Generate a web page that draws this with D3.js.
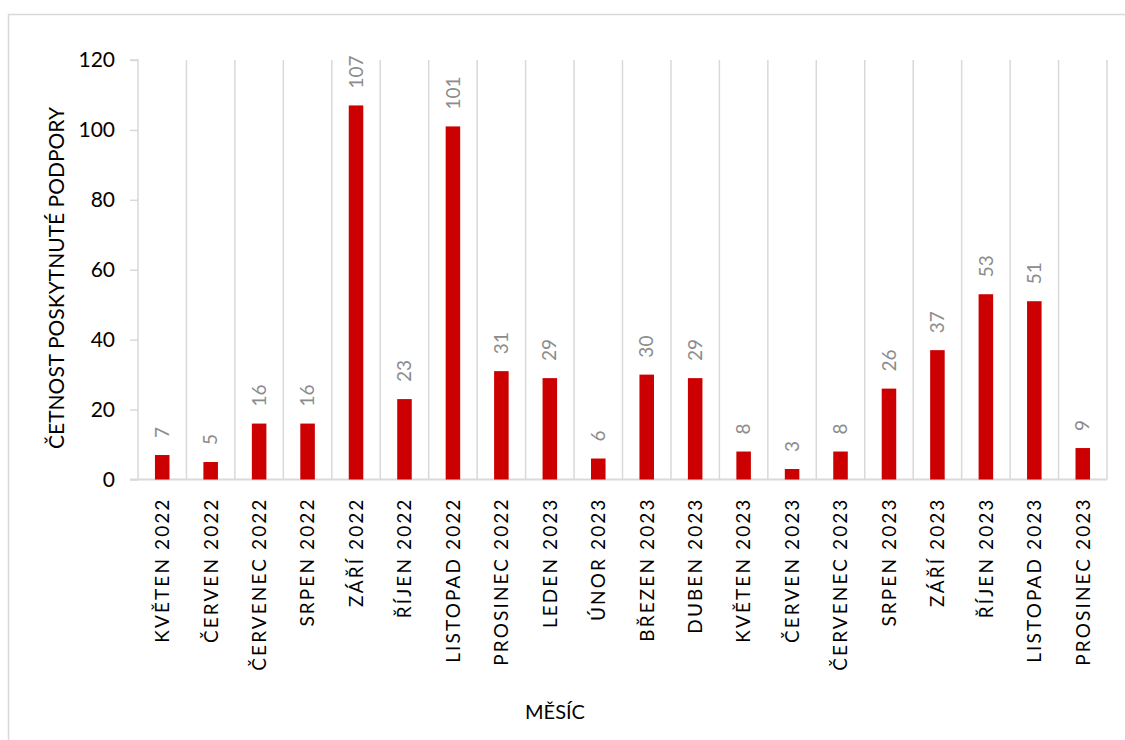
<!DOCTYPE html>
<html><head><meta charset="utf-8">
<script src="https://cdn.jsdelivr.net/npm/d3@7"></script>
<style>body{margin:0;background:#fff}svg{display:block}</style>
</head><body>
<script>
const categories = ["KVĚTEN 2022","ČERVEN 2022","ČERVENEC 2022","SRPEN 2022","ZÁŘÍ 2022","ŘÍJEN 2022","LISTOPAD 2022","PROSINEC 2022","LEDEN 2023","ÚNOR 2023","BŘEZEN 2023","DUBEN 2023","KVĚTEN 2023","ČERVEN 2023","ČERVENEC 2023","SRPEN 2023","ZÁŘÍ 2023","ŘÍJEN 2023","LISTOPAD 2023","PROSINEC 2023"];
const values = [7,5,16,16,107,23,101,31,29,6,30,29,8,3,8,26,37,53,51,9];
const yTicks = [0,20,40,60,80,100,120];
const yTitle = "ČETNOST POSKYTNUTÉ PODPORY";
const xTitle = "MĚSÍC";

const W = 1125, H = 740;
const font = "Lato, 'Open Sans', sans-serif";
const svg = d3.select("body").append("svg").attr("width", W).attr("height", H);

// outer chart border
svg.append("rect").attr("x",8.5).attr("y",14.5).attr("width",1130).attr("height",740)
  .attr("fill","none").attr("stroke","#d9d9d9").attr("stroke-width",1.5);

const L = 138, R = 1107, T = 60, B = 479.5;
const x = d3.scaleBand().domain(categories).range([L, R]).paddingInner(0).paddingOuter(0);
const y = d3.scaleLinear().domain([0,120]).range([B, T]);

// vertical gridlines at category boundaries
const bounds = categories.map(c => x(c)).concat([R]);
svg.append("g").selectAll("line").data(bounds.slice(1)).join("line")
  .attr("x1", d=>d).attr("x2", d=>d).attr("y1", T).attr("y2", B)
  .attr("stroke","#d9d9d9").attr("stroke-width",1.5);

// y axis
const yAxis = svg.append("g").attr("transform",`translate(${L},0)`)
  .call(d3.axisLeft(y).tickValues(yTicks).tickSize(8).tickPadding(15).tickFormat(d3.format("d")));
yAxis.select(".domain").attr("stroke","#d9d9d9").attr("stroke-width",1.5).attr("d",`M-8,${T}H0V${B}`);
yAxis.selectAll(".tick line").attr("stroke","#d9d9d9").attr("stroke-width",1.5);
yAxis.selectAll(".tick text").attr("font-family",font).attr("font-size",21).attr("fill","#000");

// x axis baseline
svg.append("line").attr("x1",L-8).attr("x2",R).attr("y1",B).attr("y2",B)
  .attr("stroke","#d9d9d9").attr("stroke-width",2);

// bars
const bw = x.bandwidth()*0.3;
svg.append("g").selectAll("rect").data(values).join("rect")
  .attr("x",(d,i)=>x(categories[i]) + x.bandwidth()/2 - bw/2)
  .attr("width",bw)
  .attr("y",d=>y(d)).attr("height",d=>B - y(d))
  .attr("fill","#cc0000");

// value labels
svg.append("g").selectAll("text").data(values).join("text")
  .attr("transform",(d,i)=>`translate(${x(categories[i]) + x.bandwidth()/2},${y(d)-17}) rotate(-90)`)
  .attr("dy","0.35em")
  .attr("font-family",font).attr("font-size",19).attr("fill","#8c8c8c")
  .text(d=>d);

// category labels
svg.append("g").selectAll("text").data(categories).join("text")
  .attr("transform",c=>`translate(${x(c) + x.bandwidth()/2},${B+18}) rotate(-90)`)
  .attr("text-anchor","end").attr("dy","0.36em")
  .attr("font-family",font).attr("font-size",19).attr("letter-spacing","2.1px").attr("fill","#000")
  .text(c=>c);

// axis titles
svg.append("text").attr("transform",`translate(57,278) rotate(-90)`)
  .attr("text-anchor","middle").attr("dy","0.35em")
  .attr("font-family",font).attr("font-size",21).attr("fill","#000").text(yTitle);
svg.append("text").attr("x",555).attr("y",712).attr("text-anchor","middle").attr("dy","0.35em")
  .attr("font-family",font).attr("font-size",20).attr("fill","#000").text(xTitle);
</script>
</body></html>
